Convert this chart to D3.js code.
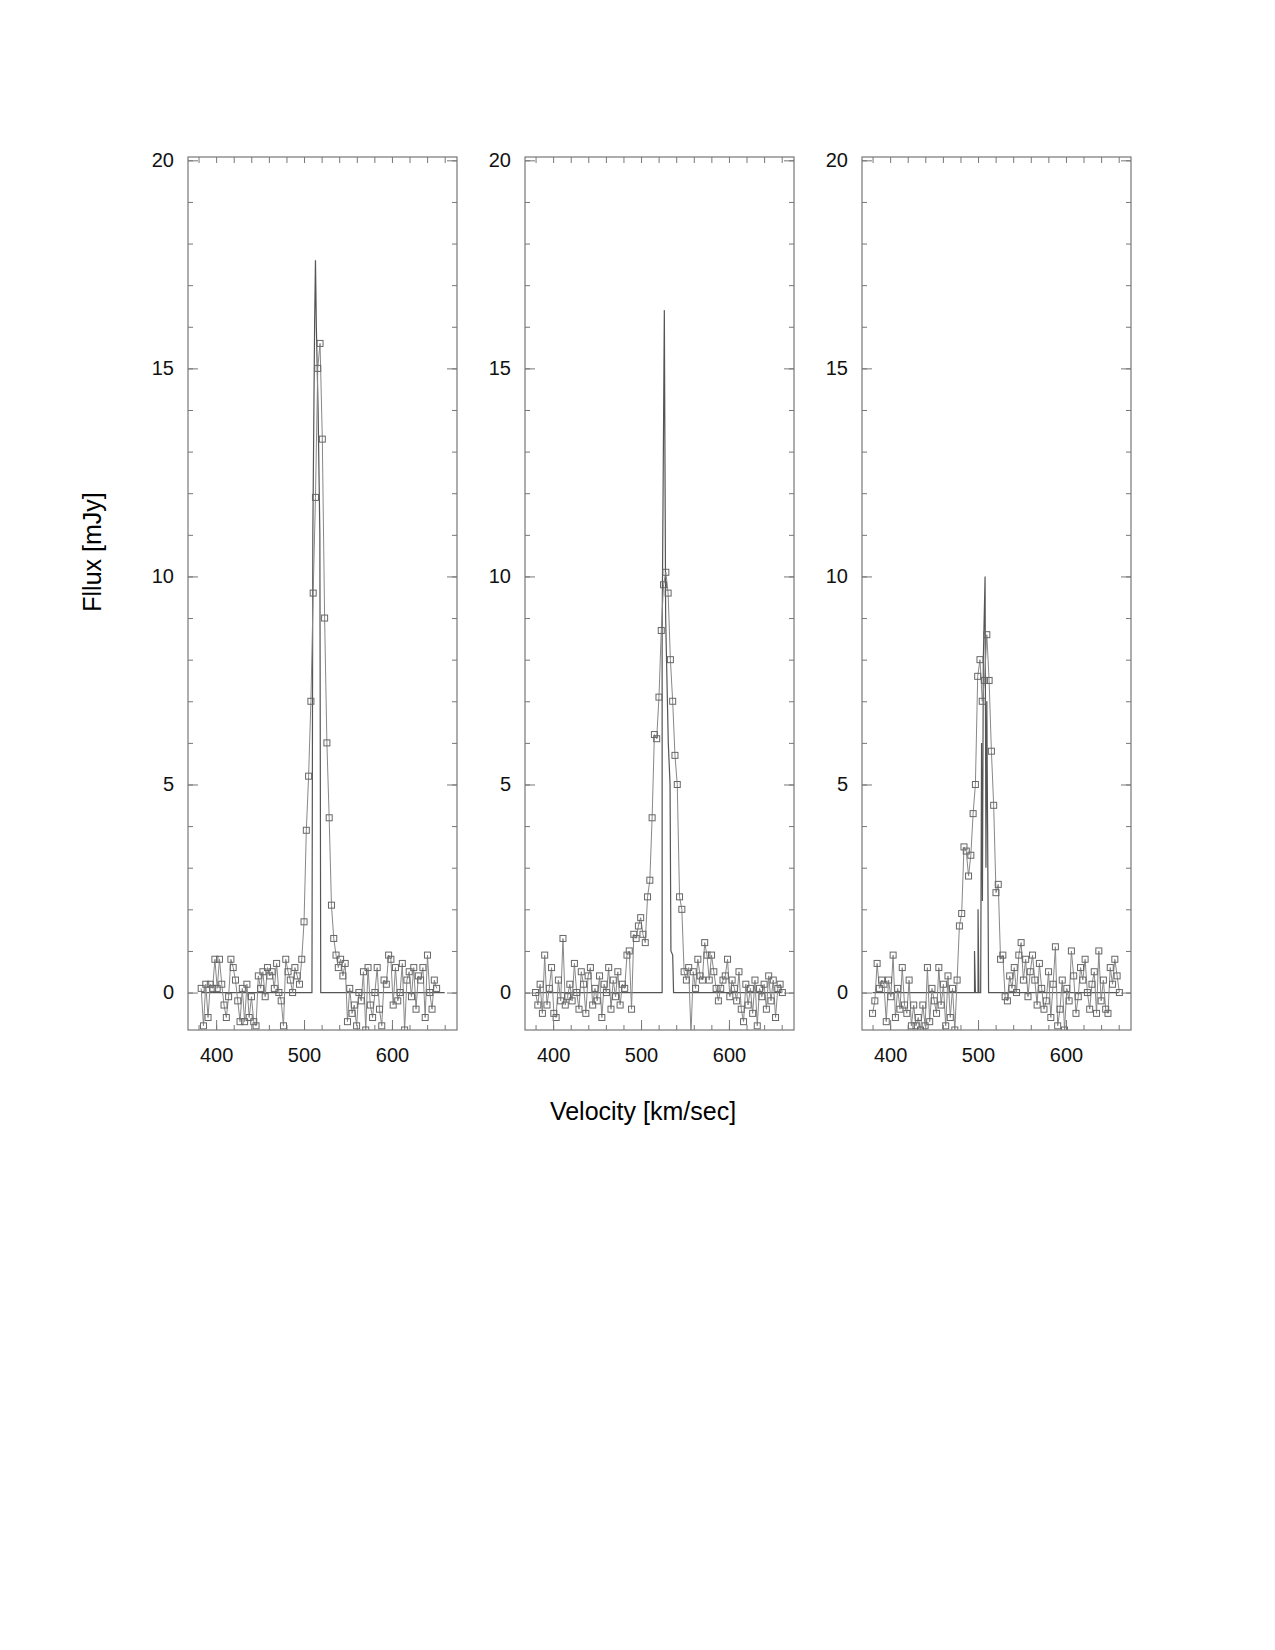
<!DOCTYPE html>
<html><head><meta charset="utf-8">
<script src="https://cdn.jsdelivr.net/npm/d3@7"></script>
<style>body{margin:0;background:#fff}text{font-family:"Liberation Sans",Arial,sans-serif}</style>
</head><body><svg id="chart" width="1275" height="1650"></svg>
<script>
const chanWidth = 2.6;
const startVel = [383, 380, 380];
const flux1 = [0.1,-0.8,0.2,-0.6,0.2,0.1,0.8,0.1,0.8,0.2,-0.3,-0.6,-0.1,0.8,0.6,0.3,-0.2,-0.7,0.1,-0.7,0.2,-0.6,-0.1,-0.7,-0.8,0.4,0.1,0.5,-0.1,0.6,0.4,0.5,0.1,0.7,0.0,-0.2,-0.8,0.8,0.5,0.3,0.0,0.6,0.4,0.2,0.8,
  1.7,3.9,5.2,7.0,9.6,11.9,15.0,15.6,13.3,9.0,6.0,4.2,2.1,1.3,0.9,0.6,0.8,0.4,0.7,
  -0.7,0.1,-0.5,-0.3,-0.8,0.0,-0.2,0.5,-0.9,0.6,-0.3,-0.6,0.0,0.6,-0.4,-0.8,0.3,0.2,0.9,0.8,-0.3,0.6,-0.2,0.0,0.7,-0.9,0.3,0.5,-0.1,0.6,-0.4,0.4,0.3,0.6,-0.6,0.9,0.0,-0.4,0.3,0.1];
const flux2 = [0.0,-0.3,0.2,-0.5,0.9,-0.3,0.1,0.6,-0.5,-0.6,0.3,-0.2,1.3,-0.3,-0.1,0.2,-0.2,0.7,0.0,-0.4,0.5,0.2,-0.5,0.4,0.6,-0.3,0.1,-0.2,0.4,-0.6,0.2,0.0,0.6,-0.4,0.3,-0.1,0.5,-0.3,0.2,0.1,
  0.9,1.0,-0.4,1.4,1.3,1.6,1.8,1.4,1.2,2.3,2.7,4.2,6.2,6.1,7.1,8.7,9.8,10.1,9.6,8.0,7.0,5.7,5.0,2.3,2.0,
  0.5,0.3,0.6,-1.0,0.5,0.1,0.8,0.4,0.3,1.2,0.9,0.3,0.9,0.5,0.1,-0.2,0.1,0.3,0.4,0.8,-0.1,0.3,0.1,-0.2,0.5,-0.4,-0.7,0.2,-0.3,0.1,-0.5,0.3,-0.8,0.1,-0.1,0.2,-0.4,0.4,
  -0.2,0.3,-0.6,0.1,0.2,0.0];
const flux3 = [-0.5,-0.2,0.7,0.1,0.3,0.2,-0.7,0.3,-0.1,0.9,-0.6,0.1,-0.4,0.6,-0.3,-0.5,0.3,-0.8,-0.3,-0.8,-0.6,-0.9,-0.3,-0.8,0.6,-0.7,0.1,-0.2,-0.5,0.6,-0.3,0.2,-0.8,0.4,-0.6,0.1,-0.9,0.3,
  1.6,1.9,3.5,3.4,2.8,3.3,4.3,5.0,7.6,8.0,7.0,7.5,8.6,7.5,5.8,4.5,2.4,2.6,0.8,0.9,
  -0.1,-0.2,0.4,0.1,0.6,0.0,0.9,1.2,0.3,0.8,-0.1,0.5,0.9,0.3,-0.3,0.7,0.1,-0.4,-0.2,0.5,-0.6,0.2,1.1,-0.8,-0.4,0.3,-0.9,0.1,-0.2,1.0,0.4,-0.5,-0.1,0.6,0.3,0.8,0.0,-0.4,0.2,0.5,
  -0.5,1.0,-0.2,0.3,-0.4,-0.5,0.6,0.2,0.8,0.4,0.0];
const model1 = [[383,0],[509,0],[510,11],[512,16],[513,17.6],[514,16],[516,14],[518,11],[519,0],[660,0]];
const model2 = [[380,0],[524,0],[524,8.7],[526.5,16.4],[528,9],[531,6],[533,5],[534,1],[536,0.9],[537,0],[660,0]];
const model3 = [[380,0],[496,0],[496,1],[497,0],[500,0],[500,2],[501,0],[503,0],[504,6],[505,2.2],[506,8],[508,10],[509,3],[510,7],[512,0],[660,0]];
const xTicks = [400, 500, 600];
const yTicks = [0, 5, 10, 15, 20];

const panels = [
  {flux: flux1, start: startVel[0], model: model1, left: 188},
  {flux: flux2, start: startVel[1], model: model2, left: 525},
  {flux: flux3, start: startVel[2], model: model3, left: 862}
];
const svg = d3.select("#chart");
const plotTop = 157, plotBottom = 1030, pw = 269;
const axisCol = "#777";

panels.forEach((p, k) => {
  const x = d3.scaleLinear().domain([368, 674]).range([p.left, p.left + pw]);
  const y = d3.scaleLinear().domain([-0.9, 20.08]).range([plotBottom, plotTop]);
  const g = svg.append("g");
  const cid = "clip" + k;
  g.append("clipPath").attr("id", cid).append("rect")
    .attr("x", p.left).attr("y", plotTop).attr("width", pw).attr("height", plotBottom - plotTop);

  const pts = p.flux.map((f, i) => [p.start + i * chanWidth, f]).filter(d => d[0] <= 662);
  const line = d3.line().x(d => x(d[0])).y(d => y(d[1]));
  const plot = g.append("g").attr("clip-path", `url(#${cid})`);
  plot.append("path").attr("d", line(p.model)).attr("fill", "none").attr("stroke", "#555").attr("stroke-width", 1.2);
  plot.append("path").attr("d", line(pts)).attr("fill", "none").attr("stroke", "#888").attr("stroke-width", 1);
  plot.selectAll("rect.pt").data(pts).enter().append("rect").attr("class", "pt")
    .attr("x", d => x(d[0]) - 3).attr("y", d => y(d[1]) - 3).attr("width", 6).attr("height", 6)
    .attr("fill", "none").attr("stroke", "#666").attr("stroke-width", 1);

  g.append("rect").attr("x", p.left).attr("y", plotTop).attr("width", pw).attr("height", plotBottom - plotTop)
    .attr("fill", "none").attr("stroke", axisCol).attr("stroke-width", 1.2);

  g.append("g").attr("transform", `translate(0,${plotBottom})`)
    .call(d3.axisBottom(x).tickValues(xTicks).tickSize(-10).tickPadding(18).tickFormat(d3.format("d")));
  g.append("g").attr("transform", `translate(0,${plotBottom})`)
    .call(d3.axisBottom(x).tickValues(d3.range(380, 674, 20)).tickSize(-5).tickFormat(""));
  g.append("g").attr("transform", `translate(0,${plotTop})`)
    .call(d3.axisTop(x).tickValues(d3.range(380, 674, 20)).tickSize(-6).tickFormat(""));
  g.append("g").attr("transform", `translate(${p.left},0)`)
    .call(d3.axisLeft(y).tickValues(yTicks).tickSize(-10).tickPadding(14));
  g.append("g").attr("transform", `translate(${p.left},0)`)
    .call(d3.axisLeft(y).tickValues(d3.range(0, 21, 1)).tickSize(-5).tickFormat(""));
  g.append("g").attr("transform", `translate(${p.left + pw},0)`)
    .call(d3.axisRight(y).tickValues(d3.range(0, 21, 1)).tickSize(-5).tickFormat(""));
  g.append("g").attr("transform", `translate(${p.left + pw},0)`)
    .call(d3.axisRight(y).tickValues(yTicks).tickSize(-10).tickFormat(""));
  g.selectAll(".domain").remove();
  g.selectAll(".tick line").attr("stroke", axisCol);
  g.selectAll(".tick text").attr("font-size", 20).attr("fill", "#111");
});

svg.append("text").attr("x", 643).attr("y", 1120).attr("text-anchor", "middle")
  .attr("font-size", 25).text("Velocity [km/sec]");
svg.append("text").attr("transform", "translate(101,552) rotate(-90)").attr("text-anchor", "middle")
  .attr("font-size", 25).text("Fllux [mJy]");
</script></body></html>
